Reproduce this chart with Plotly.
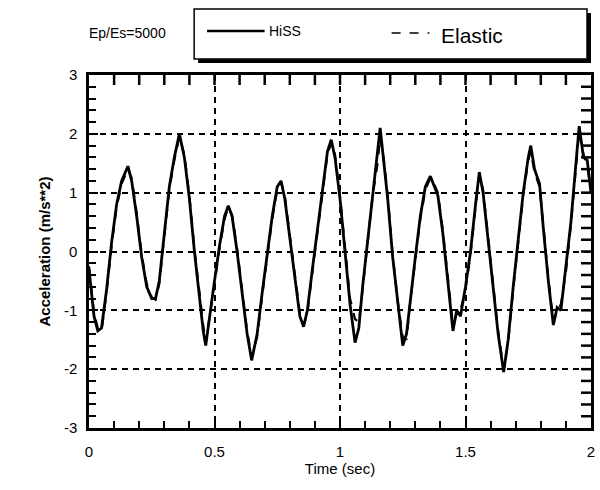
import plotly.graph_objects as go

# ---------------- data ----------------
t_hiss = [0.00, 0.01, 0.02, 0.035, 0.05, 0.07, 0.09, 0.11, 0.13, 0.155, 0.17, 0.19, 0.21, 0.23, 0.25, 0.265,
          0.28, 0.30, 0.32, 0.34, 0.36, 0.38, 0.40, 0.42, 0.44, 0.455, 0.465, 0.48, 0.50, 0.52, 0.54, 0.555,
          0.57, 0.59, 0.61, 0.63, 0.648, 0.67, 0.69, 0.71, 0.73, 0.75, 0.765, 0.78, 0.80, 0.82, 0.84, 0.855,
          0.87, 0.89, 0.91, 0.93, 0.95, 0.965, 0.98, 1.00, 1.02, 1.04, 1.06, 1.075, 1.09, 1.11, 1.13, 1.15,
          1.16, 1.175, 1.19, 1.21, 1.23, 1.25, 1.265, 1.28, 1.30, 1.32, 1.34, 1.36, 1.375, 1.39, 1.41, 1.43,
          1.45, 1.465, 1.48, 1.50, 1.52, 1.54, 1.555, 1.57, 1.59, 1.61, 1.63, 1.652, 1.67, 1.69, 1.71, 1.73,
          1.75, 1.76, 1.775, 1.795, 1.81, 1.83, 1.85, 1.865, 1.88, 1.90, 1.92, 1.94, 1.953, 1.97, 1.985, 2.00]
a_hiss = [-0.30, -0.75, -1.10, -1.35, -1.30, -0.65, 0.15, 0.80, 1.20, 1.45, 1.20, 0.60, -0.10, -0.60, -0.80, -0.80,
          -0.50, 0.30, 1.10, 1.60, 2.00, 1.60, 0.90, 0.00, -0.80, -1.35, -1.60, -1.10, -0.50, 0.10, 0.60, 0.78,
          0.60, 0.00, -0.70, -1.40, -1.85, -1.40, -0.70, 0.00, 0.60, 1.10, 1.20, 0.90, 0.20, -0.50, -1.10, -1.28,
          -1.00, -0.30, 0.40, 1.10, 1.70, 1.90, 1.60, 0.90, 0.00, -0.90, -1.55, -1.30, -0.60, 0.20, 1.00, 1.80,
          2.10, 1.50, 0.90, -0.10, -0.90, -1.60, -1.40, -0.80, -0.10, 0.60, 1.10, 1.28, 1.10, 0.95, 0.30, -0.50,
          -1.35, -1.00, -1.10, -0.60, 0.00, 0.80, 1.35, 1.00, 0.20, -0.60, -1.40, -2.05, -1.50, -0.60, 0.20, 1.00,
          1.60, 1.80, 1.40, 1.15, 0.40, -0.50, -1.25, -0.95, -1.00, -0.30, 0.50, 1.50, 2.13, 1.60, 1.55, 1.00]

t_elastic = [0.00, 0.01, 0.02, 0.035, 0.05, 0.07, 0.09, 0.11, 0.13, 0.155, 0.17, 0.19, 0.21, 0.23, 0.25, 0.265,
             0.28, 0.30, 0.32, 0.34, 0.36, 0.38, 0.40, 0.42, 0.44, 0.455, 0.465, 0.48, 0.50, 0.52, 0.54, 0.555,
             0.57, 0.59, 0.61, 0.63, 0.648, 0.67, 0.69, 0.71, 0.73, 0.75, 0.765, 0.78, 0.80, 0.82, 0.84, 0.855,
             0.87, 0.89, 0.91, 0.93, 0.95, 0.965, 0.98, 1.00, 1.02, 1.04, 1.06, 1.075, 1.09, 1.11, 1.13, 1.15,
             1.16, 1.175, 1.19, 1.21, 1.23, 1.25, 1.265, 1.28, 1.30, 1.32, 1.34, 1.36, 1.375, 1.39, 1.41, 1.43,
             1.45, 1.465, 1.48, 1.50, 1.52, 1.54, 1.555, 1.57, 1.59, 1.61, 1.63, 1.652, 1.67, 1.69, 1.71, 1.73,
             1.75, 1.76, 1.775, 1.795, 1.81, 1.83, 1.85, 1.865, 1.88, 1.90, 1.92, 1.94, 1.953, 1.97, 1.985, 2.00]
a_elastic = [-0.25, -0.70, -1.05, -1.30, -1.35, -0.70, 0.10, 0.75, 1.15, 1.40, 1.25, 0.65, -0.05, -0.55, -0.78, -0.82,
             -0.55, 0.25, 1.05, 1.55, 1.95, 1.65, 0.95, 0.05, -0.75, -1.25, -1.55, -1.15, -0.55, 0.05, 0.55, 0.75,
             0.62, 0.05, -0.65, -1.35, -1.80, -1.45, -0.75, -0.05, 0.55, 1.05, 1.18, 0.95, 0.25, -0.45, -1.05, -1.25,
             -1.05, -0.35, 0.35, 1.05, 1.65, 1.85, 1.65, 0.95, 0.05, -0.80, -1.15, -1.20, -0.65, 0.15, 0.95, 1.50,
             1.95, 1.55, 0.95, -0.05, -0.85, -1.45, -1.50, -0.85, -0.15, 0.55, 1.05, 1.25, 1.15, 1.00, 0.35, -0.45,
             -1.25, -1.05, -1.00, -0.65, -0.05, 0.75, 1.30, 1.05, 0.25, -0.55, -1.35, -2.00, -1.55, -0.65, 0.15, 0.95,
             1.55, 1.70, 1.35, 1.10, 0.45, -0.45, -1.20, -1.00, -0.90, -0.35, 0.45, 1.45, 2.05, 1.65, 1.45, 1.05]

x_range = [0, 2]
x_major_step = 0.5
x_minor_step = 0.1
y_range = [-3, 3]
y_major_step = 1
y_minor_step = 0.2
y_label_alias = {"\u22121": "-1", "\u22122": "-2", "\u22123": "-3"}

# ---------------- layout geometry (pixels) ----------------
W, H = 600, 490
L, R, T, B = 89, 595, 75, 428  # plot area edges


def px(x):
    return (x - L) / (R - L)


def py(y):
    return (B - y) / (B - T)


FONT = "Liberation Sans, Arial, sans-serif"

fig = go.Figure()
fig.add_trace(go.Scatter(x=t_elastic, y=a_elastic, mode="lines", name="Elastic",
                         line=dict(color="black", width=2.2, dash="dash"), showlegend=False))
fig.add_trace(go.Scatter(x=t_hiss, y=a_hiss, mode="lines", name="HiSS",
                         line=dict(color="black", width=2.8), showlegend=False))

tick_common = dict(
    showline=True, linecolor="black", linewidth=2.5, mirror=True,
    ticks="inside", ticklen=9, tickwidth=2, tickcolor="black",
    zeroline=False, tickfont=dict(family=FONT, size=15, color="black"),
    tickmode="linear", tick0=0,
    showgrid=True, gridcolor="black", gridwidth=2, griddash="6px,5px",
)


def minor(step):
    return dict(dtick=step, tick0=0, ticks="inside", ticklen=7, tickwidth=2,
                tickcolor="black", showgrid=False)


fig.update_layout(
    xaxis=dict(range=x_range, dtick=x_major_step, minor=minor(x_minor_step), ticklabelstandoff=8,
               title=dict(text="Time (sec)", font=dict(family=FONT, size=15, color="black"), standoff=2),
               **tick_common),
    yaxis=dict(range=y_range, dtick=y_major_step, minor=minor(y_minor_step), ticklabelstandoff=6,
               labelalias=y_label_alias,
               title=dict(text="<b>Acceleration (m/s**2)</b>", font=dict(family=FONT, size=15, color="black"),
                          standoff=10),
               **tick_common),
)

shapes = []
# mirrored tick marks on the top and right frame edges (positions follow the axis steps)
n_x = int(round((x_range[1] - x_range[0]) / x_minor_step))
for i in range(1, n_x):
    xv = x_range[0] + i * x_minor_step
    shapes.append(dict(type="line", xref="x", yref="paper", ysizemode="pixel", yanchor=1,
                       x0=xv, x1=xv, y0=0, y1=-10, line=dict(color="black", width=2.5), layer="above"))
n_y = int(round((y_range[1] - y_range[0]) / y_minor_step))
for i in range(1, n_y):
    yv = y_range[0] + i * y_minor_step
    shapes.append(dict(type="line", xref="paper", yref="y", xsizemode="pixel", xanchor=1,
                       x0=0, x1=-10, y0=yv, y1=yv, line=dict(color="black", width=2.5), layer="above"))

# legend box with drop shadow
shapes += [
    dict(type="rect", xref="paper", yref="paper", x0=px(199), x1=px(595), y0=py(63), y1=py(13),
         fillcolor="black", line=dict(width=0), layer="above"),
    dict(type="rect", xref="paper", yref="paper", x0=px(195), x1=px(591), y0=py(59), y1=py(9),
         fillcolor="white", line=dict(color="black", width=1.5), layer="above"),
    dict(type="line", xref="paper", yref="paper", x0=px(208), x1=px(266), y0=py(31), y1=py(31),
         line=dict(color="black", width=2.5), layer="above"),
    dict(type="line", xref="paper", yref="paper", x0=px(394), x1=px(432), y0=py(33), y1=py(33),
         line=dict(color="black", width=1.5, dash="dash"), layer="above"),
]
annotations = [
    dict(text="Ep/Es=5000", xref="paper", yref="paper", x=px(128), y=py(33), showarrow=False,
         xanchor="center", yanchor="middle", font=dict(family=FONT, size=14, color="black")),
    dict(text="HiSS", xref="paper", yref="paper", x=px(268), y=py(31), showarrow=False,
         xanchor="left", yanchor="middle", font=dict(family=FONT, size=14, color="black")),
    dict(text="Elastic", xref="paper", yref="paper", x=px(442), y=py(35), showarrow=False,
         xanchor="left", yanchor="middle", font=dict(family=FONT, size=21, color="black")),
]

fig.update_layout(
    width=W, height=H,
    margin=dict(l=L, r=W - R, t=T, b=H - B),
    paper_bgcolor="white", plot_bgcolor="white",
    shapes=shapes, annotations=annotations,
    showlegend=False,
    font=dict(family=FONT, color="black"),
)

fig.write_html("out.html")
